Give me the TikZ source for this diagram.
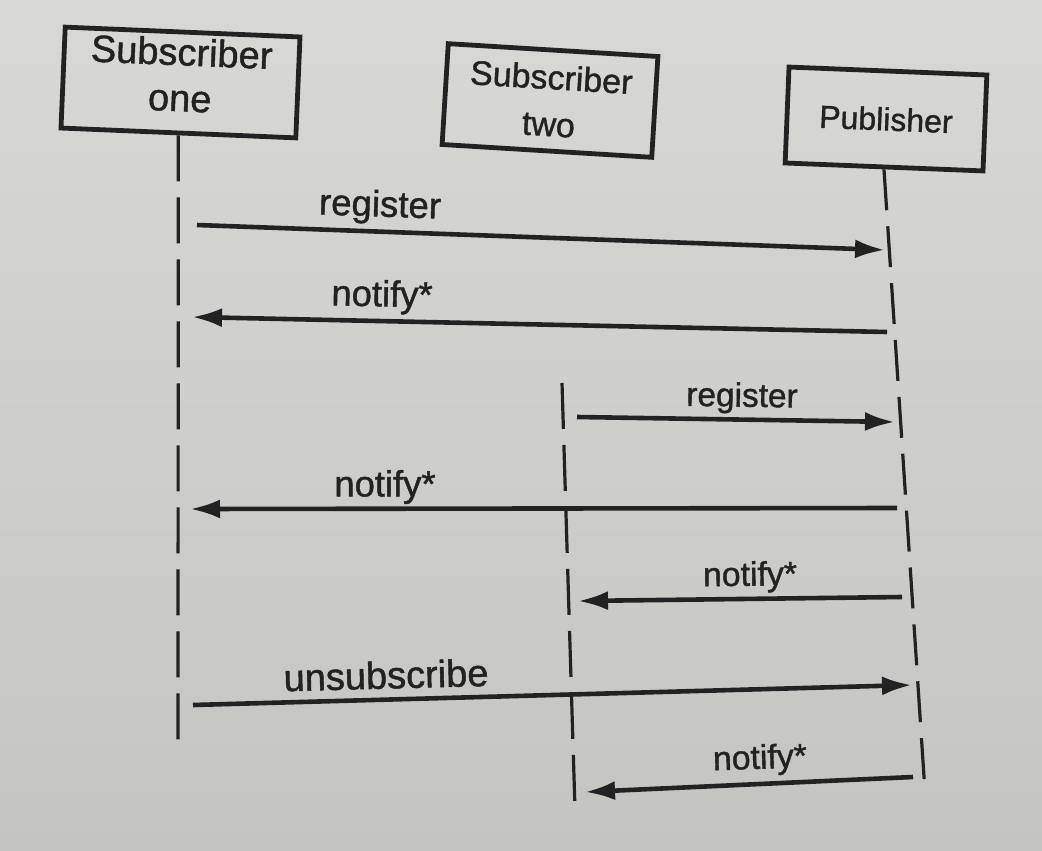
\documentclass[tikz,border=0pt]{standalone}
\usepackage{fontspec}
\setmainfont[FakeBold=1.2]{Liberation Sans}
\usetikzlibrary{arrows.meta}
\definecolor{paper}{HTML}{D8D8D4}
\definecolor{paperdark}{HTML}{C4C4C0}
\definecolor{ink}{HTML}{222222}
\begin{document}
\begin{tikzpicture}[x=0.5pt,y=-0.5pt,
  actor/.style={draw=ink, line width=2.4pt, align=center, inner sep=0pt, text=ink},
  lifeline/.style={draw=ink, line width=1.6pt, dash pattern=on 23pt off 8pt},
  publine/.style={draw=ink, line width=1.6pt, dash pattern=on 20.5pt off 8pt},
  msg/.style={draw=ink, line width=2.3pt, -{Latex[length=15pt,width=9.5pt]}},
  lbl/.style={text=ink, inner sep=0pt}]

\shade[top color=paper, bottom color=paperdark] (0,0) rectangle (1042,850);
\useasboundingbox (0,0) rectangle (1042,850);

% participants
\node[actor, minimum width=117.5pt, minimum height=50.5pt, rotate=-2.4,
      font=\fontsize{19pt}{23pt}\selectfont] (s1) at (180.5,82.5) {Subscriber\\one\\[-15pt]};
\node[actor, minimum width=105pt, minimum height=50.5pt, rotate=-3.5,
      font=\fontsize{17pt}{23.5pt}\selectfont] (s2) at (550,100.5) {Subscriber\\two};
\node[actor, minimum width=99pt, minimum height=48pt, rotate=-2.3,
      font=\fontsize{16pt}{20pt}\selectfont] (pub) at (886,119) {Publisher};

% lifelines
\coordinate (s1end) at (178,750);
\coordinate (s2top) at (562,383);
\coordinate (s2end) at (575,810);
\coordinate (pubend) at (925,792);
\draw[lifeline] (s1.south) -- (s1end);
\draw[lifeline] (s2top) -- (s2end);
\draw[publine] (pub.south) -- (pubend);

% message end points
\coordinate (a1s) at (197,225); \coordinate (a1e) at (885,250);
\coordinate (a2s) at (887,332); \coordinate (a2e) at (192,317);
\coordinate (a3s) at (577,417); \coordinate (a3e) at (895,422);
\coordinate (a4s) at (897,508); \coordinate (a4e) at (190,509);
\coordinate (a5s) at (902,597); \coordinate (a5e) at (578,601);
\coordinate (a6s) at (193,705); \coordinate (a6e) at (912,685);
\coordinate (a7s) at (913,777); \coordinate (a7e) at (585,792);

\draw[msg] (a1s) -- (a1e);
\draw[msg] (a2s) -- (a2e);
\draw[msg] (a3s) -- (a3e);
\draw[msg] (a4s) -- (a4e);
\draw[msg] (a5s) -- (a5e);
\draw[msg] (a6s) -- (a6e);
\draw[msg] (a7s) -- (a7e);

% labels
\node[lbl, rotate=-2.0, font=\fontsize{18.3pt}{22pt}\selectfont] (l1) at (380,207) {register};
\node[lbl, rotate=-1.2, font=\fontsize{18.2pt}{22pt}\selectfont] (l2) at (382,297) {notify*};
\node[lbl, rotate=-0.9, font=\fontsize{16.7pt}{20pt}\selectfont] (l3) at (742,398) {register};
\node[lbl, rotate=0, font=\fontsize{18.2pt}{22pt}\selectfont] (l4) at (385,487) {notify*};
\node[lbl, rotate=0.7, font=\fontsize{16.9pt}{20pt}\selectfont] (l5) at (750,577) {notify*};
\node[lbl, rotate=1.5, font=\fontsize{19pt}{23pt}\selectfont] (l6) at (386,675) {unsubscribe};
\node[lbl, rotate=2.0, font=\fontsize{16.9pt}{20pt}\selectfont] (l7) at (760,760) {notify*};
\end{tikzpicture}
\end{document}
